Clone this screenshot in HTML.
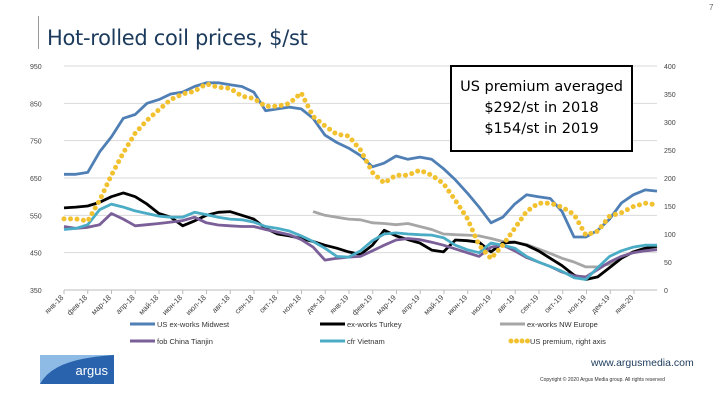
<!DOCTYPE html>
<html><head><meta charset="utf-8"><style>
body{margin:0;width:720px;height:405px;background:#fff;overflow:hidden;font-family:"Liberation Sans","DejaVu Sans",sans-serif;position:relative}
.abs{position:absolute}
</style></head><body>
<div class="abs" style="left:709px;top:3px;font-size:8px;color:#666">7</div>
<div class="abs" style="left:38px;top:16px;width:1px;height:33px;background:#999"></div>
<div class="abs" style="left:47px;top:26px;font-size:21px;color:#1b3a5c;font-family:'DejaVu Sans',sans-serif;letter-spacing:-0.3px">Hot-rolled coil prices, $/st</div>
<svg id="chart" class="abs" style="left:0;top:0" width="720" height="405"></svg>
<div class="abs" style="left:450px;top:65px;width:183px;height:87px;border:2px solid #000;background:#fff;text-align:center;font-family:'DejaVu Sans',sans-serif;font-size:14.5px;line-height:21px;padding-top:10px;box-sizing:border-box">US premium averaged<br>$292/st in 2018<br>$154/st in 2019</div>
<svg class="abs" style="left:40px;top:355px" width="74" height="29">
<rect width="74" height="29" fill="#2a63ad"/>
<path d="M0 29 C10 12 30 3 74 0 L74 0 L0 0 Z" fill="#8dbbe6"/>
<path d="M4 29 C14 14 34 5 74 3 L74 29 Z" fill="#2a63ad"/>
<text x="68" y="20" font-size="13" fill="#fff" text-anchor="end" font-family="Liberation Sans, sans-serif">argus</text>
</svg>
<div class="abs" style="left:591px;top:357px;font-size:10.5px;color:#1b3a5c">www.argusmedia.com</div>
<div class="abs" style="left:540px;top:377px;font-size:5px;color:#333">Copyright © 2020 Argus Media group. All rights reserved</div>
<script>
const months=["янв-18","фев-18","мар-18","апр-18","май-18","июн-18","июл-18","авг-18","сен-18","окт-18","ноя-18","дек-18","янв-19","фев-19","мар-19","апр-19","май-19","июн-19","июл-19","авг-19","сен-19","окт-19","ноя-19","дек-19","янв-20"];
const leftTicks=[350,450,550,650,750,850,950];
const rightTicks=[0,50,100,150,200,250,300,350,400];
const usMidwest=[660,660,665,720,760,810,820,850,860,875,880,895,905,905,900,895,880,830,835,840,835,810,765,745,730,710,680,690,709,700,706,700,675,645,610,572,530,545,580,605,600,595,560,492,492,510,540,583,605,618,615];
const turkey=[570,572,575,585,600,610,600,580,555,545,522,535,550,558,560,550,540,515,500,495,488,480,470,462,452,445,470,510,495,485,476,457,452,484,482,478,452,476,478,470,455,435,415,390,378,385,410,435,452,462,467];
const nwEurope=[null,null,null,null,null,null,null,null,null,null,null,null,null,null,null,null,null,null,null,null,null,560,550,545,540,538,530,528,525,528,520,512,500,498,497,495,488,480,478,472,460,448,435,425,412,412,420,437,452,458,460];
const china=[520,515,518,525,555,540,522,525,528,532,536,545,530,524,522,520,520,512,505,498,485,465,430,435,438,440,455,470,484,488,485,478,470,460,450,440,465,470,455,437,425,413,398,388,385,405,425,440,450,455,458];
const vietnam=[512,515,525,565,580,572,562,555,548,545,545,558,552,545,540,538,532,520,515,508,495,480,462,440,438,455,482,500,503,500,498,497,490,470,458,450,476,470,462,440,425,413,400,383,378,410,440,455,465,470,470];
const usPremium=[127,127,123,160,205,245,280,303,322,340,350,355,368,362,360,346,342,328,328,333,352,310,293,278,275,250,210,191,205,205,214,205,190,160,128,80,56,80,110,140,155,155,148,135,98,105,132,138,149,155,152];
const NS="http://www.w3.org/2000/svg";
const svg=document.getElementById('chart');
const X0=64,X1=657,YT=66,YB=290;
const xs=i=>X0+i*(X1-X0)/(usMidwest.length-1);
const yL=v=>YB-(v-350)/600*(YB-YT);
const yR=v=>YB-v/400*(YB-YT);
function mk(t,a){const e=document.createElementNS(NS,t);for(const k in a)e.setAttribute(k,a[k]);svg.appendChild(e);return e;}
leftTicks.forEach(v=>{
 const g=mk('line',{x1:X0,x2:X1,y1:yL(v),y2:yL(v),stroke:v===350?'#bbb':'#d9d9d9','stroke-width':1});
 
 
 const t=mk('text',{x:30,y:yL(v)+3,'font-size':7,fill:'#444'});t.textContent=v;
 
 
});
rightTicks.forEach(v=>{
 const t=mk('text',{x:664,y:yR(v)+3,'font-size':7,fill:'#444'});t.textContent=v;
 
 
});
const step=23.75;
months.forEach((m,i)=>{
 const x=X0+i*step;
 const tk=mk('line',{x1:x,x2:x,y1:YB,y2:YB+4,stroke:'#bbb'});
 
 
 const t=mk('text',{x:x,y:YB+8,'font-size':7.5,fill:'#444','text-anchor':'end',transform:`rotate(-45 ${x} ${YB+8})`});t.textContent=m;
 
 
});
function line(arr,yf,color,name,dot){
 let d='',pen=false;
 arr.forEach((v,i)=>{if(v==null){pen=false;return;}d+=(pen?'L':'M')+xs(i).toFixed(1)+' '+yf(v).toFixed(1);pen=true;});
 const p=mk('path',{d:d,fill:'none',stroke:color,'stroke-width':dot?5:2.8,'stroke-linejoin':'round'});
 if(dot){p.setAttribute('stroke-dasharray','0 6.5');p.setAttribute('stroke-linecap','round');}
 
 
}
line(nwEurope,yL,'#a6a6a6','series-nw-europe');
line(turkey,yL,'#000000','series-turkey');
line(china,yL,'#7a5f98','series-china-tianjin');
line(vietnam,yL,'#4bacc6','series-vietnam');
line(usMidwest,yL,'#4f7fb5','series-us-midwest');
line(usPremium,yR,'#f2c130','series-us-premium',true);
const legend=[["US ex-works Midwest","#4f7fb5",130,324],["ex-works Turkey","#000",320,324],["ex-works NW Europe","#a6a6a6",500,324],["fob China Tianjin","#7a5f98",130,341],["cfr Vietnam","#4bacc6",320,341],["US premium, right axis","#f2c130",511,341]];
legend.forEach((l,i)=>{
 const dot=i===5;
 const w=dot?17:25;
 const s=mk('line',{x1:l[2],x2:l[2]+w,y1:l[3],y2:l[3],stroke:l[1],'stroke-width':dot?5:3});
 if(dot){s.setAttribute('stroke-dasharray','0 5.5');s.setAttribute('stroke-linecap','round');}
 
 
 const t=mk('text',{x:l[2]+w+2,y:l[3]+3,'font-size':7.5,fill:'#333'});t.textContent=l[0];
 
 
});
</script>
</body></html>
